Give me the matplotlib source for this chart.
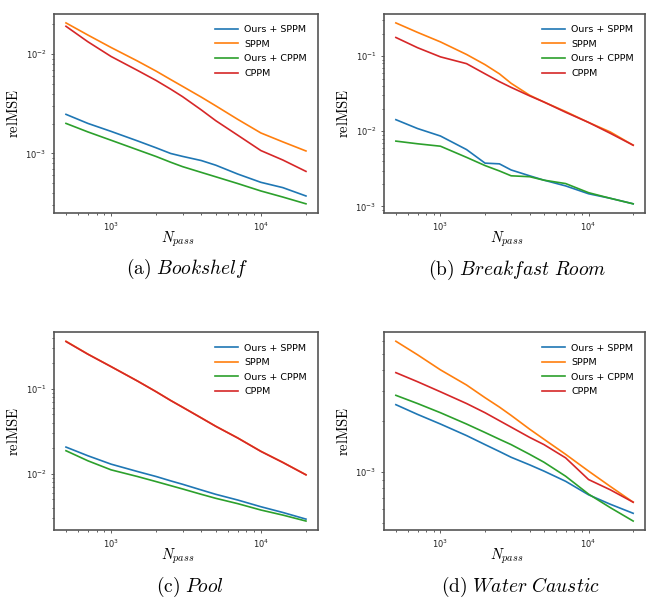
import numpy as np
import matplotlib.pyplot as plt
from matplotlib.ticker import NullFormatter

plt.rcParams['mathtext.fontset'] = 'cm'

# number of passes (shared by all scenes)
n_pass = [500, 700, 1000, 1500, 2000, 2500, 3000, 4000, 5000, 7000, 10000, 14000, 20000]
methods = ['Ours + SPPM', 'SPPM', 'Ours + CPPM', 'CPPM']
colors = ['tab:blue', 'tab:orange', 'tab:green', 'tab:red']

# (a) Bookshelf
book_ours_sppm = [0.00248, 0.00201, 0.00167, 0.00134, 0.00114, 0.001, 0.000935, 0.000849, 0.000762, 0.000621, 0.000512, 0.000453, 0.000373]
book_sppm = [0.0207, 0.01563, 0.0117, 0.00855, 0.00676, 0.00556, 0.00475, 0.0037, 0.00302, 0.00221, 0.00161, 0.00131, 0.00106]
book_ours_cppm = [0.00201, 0.00165, 0.00136, 0.00109, 0.000932, 0.000816, 0.000737, 0.000645, 0.000582, 0.000498, 0.000419, 0.000364, 0.000311]
book_cppm = [0.01914, 0.01337, 0.0095, 0.00688, 0.00544, 0.00445, 0.00374, 0.00275, 0.00214, 0.00153, 0.00107, 0.00086, 0.00066]

# (b) Breakfast Room
bfr_ours_sppm = [0.01426, 0.01087, 0.00864, 0.0057, 0.00376, 0.00368, 0.00305, 0.00255, 0.00223, 0.00187, 0.00147, 0.00128, 0.00108]
bfr_sppm = [0.2773, 0.2075, 0.1549, 0.1054, 0.0771, 0.0582, 0.0435, 0.0302, 0.0245, 0.0183, 0.0131, 0.0098, 0.00652]
bfr_ours_cppm = [0.00739, 0.00681, 0.00632, 0.00449, 0.00349, 0.00296, 0.00255, 0.00248, 0.00223, 0.00201, 0.00152, 0.00128, 0.00108]
bfr_cppm = [0.1774, 0.1297, 0.0979, 0.0795, 0.0582, 0.0458, 0.0384, 0.0296, 0.0245, 0.0179, 0.0131, 0.0094, 0.00652]

# (c) Pool
pool_ours_sppm = [0.02065, 0.01633, 0.01301, 0.01066, 0.00931, 0.00827, 0.00755, 0.00647, 0.00575, 0.00493, 0.00411, 0.00352, 0.00294]
pool_sppm = [0.362, 0.256, 0.1825, 0.1236, 0.0925, 0.073, 0.0609, 0.0456, 0.0363, 0.0265, 0.01845, 0.01368, 0.00978]
pool_ours_cppm = [0.01871, 0.01425, 0.01115, 0.00931, 0.00811, 0.00727, 0.00665, 0.00575, 0.00516, 0.00447, 0.00376, 0.00328, 0.00279]
pool_cppm = [0.359, 0.2547, 0.182, 0.1233, 0.0922, 0.0728, 0.0607, 0.0454, 0.0362, 0.0264, 0.01836, 0.01362, 0.00973]

# (d) Water Caustic
wc_ours_sppm = [0.0025, 0.00219, 0.00192, 0.00164, 0.00145, 0.00132, 0.00122, 0.0011, 0.00101, 0.000879, 0.000731, 0.000643, 0.000568]
wc_sppm = [0.00594, 0.00494, 0.00402, 0.00327, 0.00275, 0.00242, 0.00216, 0.00179, 0.00156, 0.00127, 0.00101, 0.00082, 0.000661]
wc_ours_cppm = [0.00284, 0.00254, 0.00224, 0.00192, 0.00171, 0.00156, 0.00145, 0.00127, 0.00114, 0.000942, 0.000738, 0.000614, 0.000511]
wc_cppm = [0.00387, 0.00342, 0.00298, 0.00254, 0.00224, 0.00201, 0.00184, 0.0016, 0.00145, 0.00121, 0.0009, 0.000783, 0.000661]

scenes = [
    ('(a)', 'Bookshelf', [book_ours_sppm, book_sppm, book_ours_cppm, book_cppm]),
    ('(b)', 'Breakfast\\ Room', [bfr_ours_sppm, bfr_sppm, bfr_ours_cppm, bfr_cppm]),
    ('(c)', 'Pool', [pool_ours_sppm, pool_sppm, pool_ours_cppm, pool_cppm]),
    ('(d)', 'Water\\ Caustic', [wc_ours_sppm, wc_sppm, wc_ours_cppm, wc_cppm]),
]

fig = plt.figure(figsize=(6.48, 6.03), dpi=100)

# axes boxes in figure fractions [left, bottom, width, height]
boxes = [
    [0.0833, 0.647, 0.4074, 0.330],
    [0.5926, 0.647, 0.4028, 0.330],
    [0.0833, 0.121, 0.4074, 0.328],
    [0.5926, 0.121, 0.4028, 0.328],
]
captions_xy = [(0.289, 0.554), (0.798, 0.552), (0.293, 0.027), (0.804, 0.027)]

for (tag, name, series), box, cxy in zip(scenes, boxes, captions_xy):
    ax = fig.add_axes(box)
    for label, vals, c in zip(methods, series, colors):
        ax.plot(n_pass, vals, color=c, lw=1.2, label=label)
    ax.set_xscale('log')
    ax.set_yscale('log')
    ax.yaxis.set_minor_formatter(NullFormatter())
    ax.xaxis.set_minor_formatter(NullFormatter())
    ax.tick_params(which='both', labelsize=6, colors='#444', labelcolor='#222', length=2, width=0.6)
    ax.tick_params(which='minor', length=1.2)
    for sp in ax.spines.values():
        sp.set_color('#555')
        sp.set_linewidth(1.2)
    ax.set_ylabel(r'$\mathrm{relMSE}$', fontsize=10.5)
    ax.set_xlabel(r'$N_{pass}$', fontsize=10.5)
    ax.yaxis.set_label_coords(-0.125, 0.5)
    ax.xaxis.set_label_coords(0.47, -0.085)
    ax.legend(loc='upper right', frameon=False, fontsize=6.8, handlelength=2.43,
              handletextpad=0.6, labelspacing=0.59, borderaxespad=0.8)
    fig.text(cxy[0], cxy[1], r'$\mathrm{' + tag + r'}\ \mathit{' + name + '}$',
             ha='center', va='center', fontsize=14)

plt.savefig('out.png', dpi=100)
